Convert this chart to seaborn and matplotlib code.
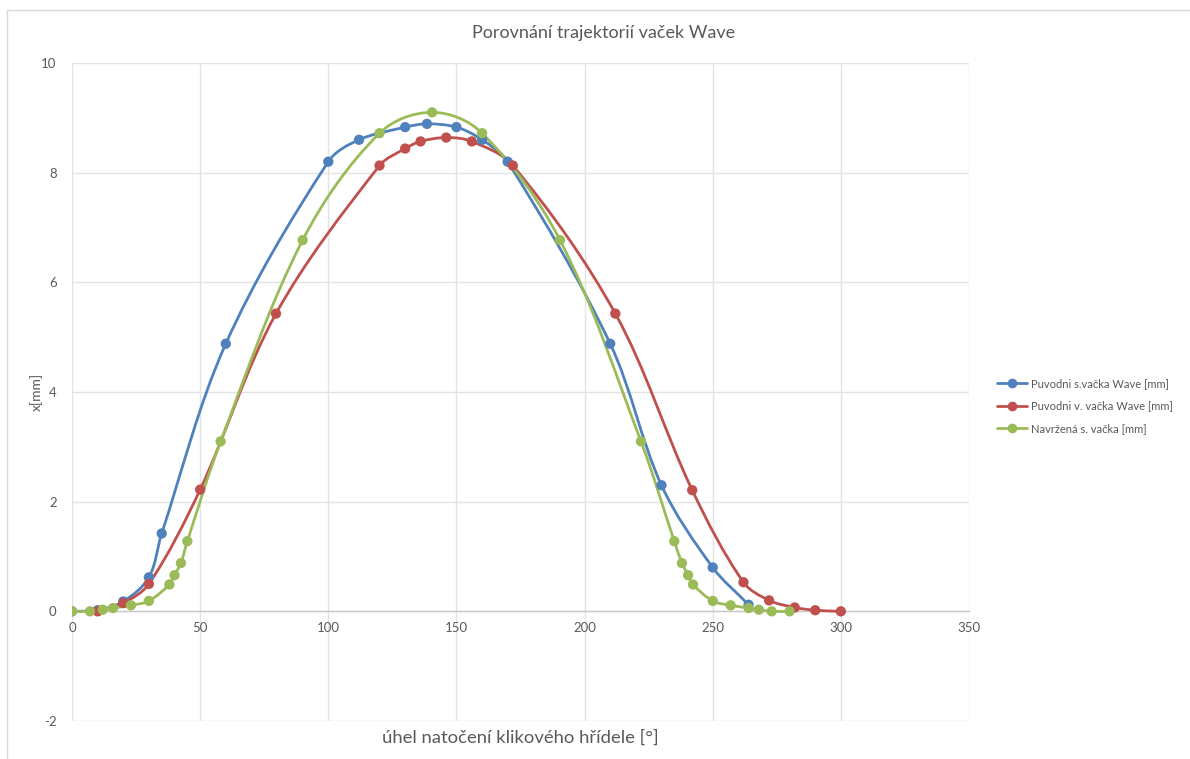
import numpy as np
import pandas as pd
import matplotlib
matplotlib.use("Agg")
import matplotlib.pyplot as plt
from matplotlib.path import Path
from matplotlib.patches import PathPatch, Rectangle
from matplotlib.lines import Line2D
import seaborn as sns

# --- data -------------------------------------------------------------
blue_x = [0, 10, 20, 30, 35, 60, 100, 112, 130, 138.5, 150, 160, 170, 210, 230, 250, 264]
blue_y = [0, 0.02, 0.18, 0.62, 1.42, 4.88, 8.2, 8.6, 8.83, 8.89, 8.83, 8.6, 8.2, 4.88, 2.3, 0.8, 0.12]

red_x = [10, 20, 30, 50, 79.6, 120, 130, 136, 146, 156, 172, 212, 242, 262, 272, 282, 290, 300]
red_y = [0, 0.15, 0.5, 2.22, 5.43, 8.13, 8.44, 8.57, 8.64, 8.57, 8.13, 5.43, 2.21, 0.53, 0.2, 0.07, 0.02, 0]

green_x = [0, 7, 12, 16, 23, 30, 38, 40, 42.5, 45, 58, 90, 120, 140.5, 160, 190.4, 222,
           235, 238, 240.4, 242.3, 250, 257, 264, 268, 273, 280]
green_y = [0, 0, 0.03, 0.06, 0.11, 0.19, 0.49, 0.66, 0.88, 1.28, 3.1, 6.77, 8.72, 9.1, 8.72, 6.77, 3.1,
           1.28, 0.88, 0.66, 0.49, 0.19, 0.11, 0.06, 0.03, 0, 0]

series_names = ["Puvodni s.vačka Wave [mm]", "Puvodni v. vačka Wave [mm]", "Navržená s. vačka [mm]"]
series_colors = ["#4F81BD", "#C0504D", "#9BBB59"]

x_ticks = [0, 50, 100, 150, 200, 250, 300, 350]
y_ticks = [-2, 0, 2, 4, 6, 8, 10]

title = "Porovnání trajektorií vaček Wave"
x_label = "úhel natočení klikového hřídele [°]"
y_label = "x[mm]"

# --- figure -------------------------------------------------------------
sns.set_theme(style="white")
plt.rcParams["font.family"] = ["Lato", "DejaVu Sans"]
TXT = "#595959"
GRID = "#E3E3E3"

W, H = 1190, 759
fig = plt.figure(figsize=(W / 100, H / 100), dpi=100)
L, R, T, B = 72, 969, 63, 721
ax = fig.add_axes([L / W, 1 - B / H, (R - L) / W, (B - T) / H])
ax.set_xlim(0, 350)
ax.set_ylim(-2, 10)

# outer chart border
fig.patches.append(Rectangle((7 / W, -0.2), 1.2, 1.2 - 10 / H, transform=fig.transFigure,
                             fill=False, edgecolor="#D9D9D9", linewidth=1.0))

# pixel scale of one data unit, used to keep the smoothing isotropic on screen
SX = (R - L) / 350.0
SY = (B - T) / 12.0


def smooth_path(xs, ys):
    """Bezier path through the points with tangents taken from the neighbours."""
    pts = np.column_stack([np.asarray(xs, float) * SX, np.asarray(ys, float) * SY])
    n = len(pts)
    tang = np.zeros_like(pts)
    for i in range(n):
        a = pts[max(i - 1, 0)]
        b = pts[min(i + 1, n - 1)]
        d = b - a
        norm = np.hypot(*d)
        tang[i] = d / norm if norm > 0 else 0
    verts = [pts[0]]
    codes = [Path.MOVETO]
    for i in range(n - 1):
        p1, p2 = pts[i], pts[i + 1]
        seg = np.hypot(*(p2 - p1))
        c1 = p1 + tang[i] * seg / 3.0
        c2 = p2 - tang[i + 1] * seg / 3.0
        verts += [c1, c2, p2]
        codes += [Path.CURVE4] * 3
    verts = np.array(verts) / np.array([SX, SY])
    return Path(verts, codes)


frames = []
for name, xs, ys in zip(series_names, [blue_x, red_x, green_x], [blue_y, red_y, green_y]):
    frames.append(pd.DataFrame({"angle": xs, "x": ys, "series": name}))
df = pd.concat(frames, ignore_index=True)

for name, color in zip(series_names, series_colors):
    sub = df[df["series"] == name]
    patch = PathPatch(smooth_path(sub["angle"], sub["x"]), facecolor="none",
                      edgecolor=color, linewidth=2.0, zorder=3, capstyle="round")
    ax.add_patch(patch)

sns.scatterplot(data=df, x="angle", y="x", hue="series", hue_order=series_names,
                palette=series_colors, s=55, edgecolor="none", linewidth=0,
                zorder=4, legend=False, ax=ax)

# --- axes styling ---------------------------------------------------------
ax.set_xlim(0, 350)
ax.set_ylim(-2, 10)
ax.set_xticks(x_ticks)
ax.set_yticks(y_ticks)
ax.set_xticklabels([str(t) for t in x_ticks])
ax.set_yticklabels([str(t) for t in y_ticks])
ax.grid(True, color=GRID, linewidth=1.0)
ax.set_axisbelow(True)
for side in ["top", "right", "left"]:
    ax.spines[side].set_visible(False)
ax.spines["bottom"].set_position(("data", 0))
ax.spines["bottom"].set_color("#C8C8C8")
ax.spines["bottom"].set_linewidth(1.0)
ax.spines["bottom"].set_zorder(2)
ax.tick_params(axis="both", length=0, labelsize=9.5, labelcolor=TXT)
ax.tick_params(axis="x", pad=8)
ax.tick_params(axis="y", pad=11)

ax.set_xlabel(x_label, fontsize=13.3, color=TXT, va="center")
ax.xaxis.set_label_coords(0.5, -(738 - B) / (B - T))
ax.set_ylabel(y_label, fontsize=10, color=TXT, va="center")
ax.yaxis.set_label_coords(-(L - 36) / (R - L), 0.5)

fig.text(604 / W, 1 - 33 / H, title, ha="center", va="center", fontsize=13, color=TXT)

handles = [Line2D([0], [0], color=c, linewidth=2.0, marker="o", markersize=7,
                  markeredgewidth=0) for c in series_colors]
leg = fig.legend(handles, series_names, loc="center left",
                 bbox_to_anchor=(997 / W, 1 - 406 / H), frameon=False,
                 fontsize=8, labelcolor=TXT, handlelength=2.7, handletextpad=0.35,
                 labelspacing=1.0, borderaxespad=0, borderpad=0)

fig.savefig("out.png", dpi=100, facecolor="white")
